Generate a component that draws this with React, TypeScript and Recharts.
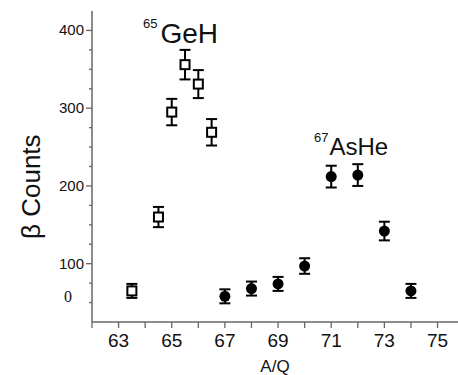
import {
  ScatterChart,
  Scatter,
  XAxis,
  YAxis,
  ErrorBar,
  ReferenceDot,
} from "recharts";

// 65GeH (open squares)
const geAQ = [63.5, 64.5, 65, 65.5, 66, 66.5];
const geCounts = [65, 160, 295, 356, 331, 269];
const geErr = [9, 13, 17, 19, 18, 17];

// 67AsHe (filled circles)
const asAQ = [67, 68, 69, 70, 71, 72, 73, 74];
const asCounts = [58, 68, 74, 97, 212, 214, 142, 65];
const asErr = [9, 9, 9, 10, 14, 14, 12, 9];

const xTicks = [62, 63, 64, 65, 66, 67, 68, 69, 70, 71, 72, 73, 74, 75];
const yTicks = [50, 75, 100, 125, 150, 175, 200, 225, 250, 275, 300, 325, 350, 375, 400];

const geLabel = { iso: "65", name: "GeH", aq: 63.92, counts: 384 };
const asLabel = { iso: "67", name: "AsHe", aq: 70.35, counts: 240 };

const W = 458;
const H = 375;
const M_TOP = 11;
const Y_AXIS_W = 92;
const X_AXIS_H = 53;
const AXIS_X = Y_AXIS_W;
const AXIS_Y = H - X_AXIS_H;

const FONT = "'Liberation Sans', Arial, Helvetica, sans-serif";
const AXIS_COLOR = "#666";

const geData = geAQ.map((aq, i) => ({ aq, counts: geCounts[i], err: geErr[i] }));
const asData = asAQ.map((aq, i) => ({ aq, counts: asCounts[i], err: asErr[i] }));

const YTick = ({ y, payload }: any) => {
  const v = payload.value;
  const major = v % 100 === 0;
  const len = major ? 6 : 3;
  return (
    <g>
      <line x1={AXIS_X - len} y1={y} x2={AXIS_X} y2={y} stroke={AXIS_COLOR} strokeWidth={1.3} />
      {major && (
        <text x={AXIS_X - 8} y={y} dy={5} textAnchor="end" fontFamily={FONT} fontSize={15} fill="#111">
          {v}
        </text>
      )}
      {v === 50 && (
        <text x={68} y={y} dy={-1} textAnchor="middle" fontFamily="'Liberation Serif', 'Times New Roman', serif" fontSize={16} fill="#111">
          0
        </text>
      )}
    </g>
  );
};

const XTick = ({ x, payload }: any) => {
  const v = payload.value;
  const major = v % 2 === 1;
  return (
    <g>
      <line x1={x} y1={AXIS_Y} x2={x} y2={AXIS_Y + 6} stroke={AXIS_COLOR} strokeWidth={1.3} />
      {major && (
        <text x={x} y={AXIS_Y + 25} textAnchor="middle" fontFamily={FONT} fontSize={19} fill="#111">
          {v}
        </text>
      )}
    </g>
  );
};

const Square = ({ cx, cy }: any) => (
  <rect x={cx - 4.5} y={cy - 4.5} width={9} height={9} fill="#fff" stroke="#000" strokeWidth={2} />
);

const Dot = ({ cx, cy }: any) => <circle cx={cx} cy={cy} r={5.5} fill="#000" />;

const isoLabel = (info: { iso: string; name: string }, big: number, rise: number, gap: number) =>
  ({ viewBox }: any) => (
    <text x={viewBox.x} y={viewBox.y} fontFamily={FONT} fill="#111">
      <tspan fontSize={13} dy={-rise}>{info.iso}</tspan>
      <tspan fontSize={big} dy={rise} dx={gap}>{info.name}</tspan>
    </text>
  );

const YLabel = ({ viewBox }: any) => {
  const x = viewBox.x + 31;
  const y = viewBox.y + viewBox.height * 0.565;
  return (
    <text x={x} y={y} transform={`rotate(-90 ${x} ${y})`} textAnchor="middle" dominantBaseline="central" fontFamily={FONT} fontSize={26} fill="#111">
      β Counts
    </text>
  );
};

const XLabel = ({ viewBox }: any) => (
  <text x={viewBox.x + viewBox.width / 2} y={viewBox.y + viewBox.height - 3} textAnchor="middle" fontFamily={FONT} fontSize={17} fill="#111">
    A/Q
  </text>
);

export default function App() {
  return (
    <div style={{ position: "absolute", left: 0, top: 0, width: W, height: H, background: "#fff" }}>
      <ScatterChart width={W} height={H} margin={{ top: M_TOP, right: 0, bottom: 0, left: 0 }}>
        <XAxis
          dataKey="aq"
          type="number"
          domain={[62, 75.77]}
          allowDataOverflow
          ticks={xTicks}
          tick={<XTick />}
          tickLine={false}
          height={X_AXIS_H}
          stroke={AXIS_COLOR}
          strokeWidth={1.5}
          label={{ content: XLabel }}
        />
        <XAxis
          xAxisId="top"
          orientation="top"
          type="number"
          domain={[62, 75.77]}
          allowDataOverflow
          tick={false}
          tickLine={false}
          height={0}
          stroke={AXIS_COLOR}
          strokeWidth={2}
        />
        <YAxis
          dataKey="counts"
          type="number"
          domain={[25, 425]}
          allowDataOverflow
          ticks={yTicks}
          interval={0}
          tick={<YTick />}
          tickLine={false}
          width={Y_AXIS_W}
          stroke={AXIS_COLOR}
          strokeWidth={1.5}
          label={{ content: YLabel }}
        />
        <Scatter data={geData} shape={<Square />} isAnimationActive={false}>
          <ErrorBar dataKey="err" direction="y" width={5.5} stroke="#000" strokeWidth={2} />
        </Scatter>
        <Scatter data={asData} shape={<Dot />} isAnimationActive={false}>
          <ErrorBar dataKey="err" direction="y" width={5.5} stroke="#000" strokeWidth={2} />
        </Scatter>
        <ReferenceDot x={geLabel.aq} y={geLabel.counts} r={0} fill="none" stroke="none" label={{ content: isoLabel(geLabel, 28, 15, 3) }} />
        <ReferenceDot x={asLabel.aq} y={asLabel.counts} r={0} fill="none" stroke="none" label={{ content: isoLabel(asLabel, 24, 13, 1) }} />
      </ScatterChart>
    </div>
  );
}
